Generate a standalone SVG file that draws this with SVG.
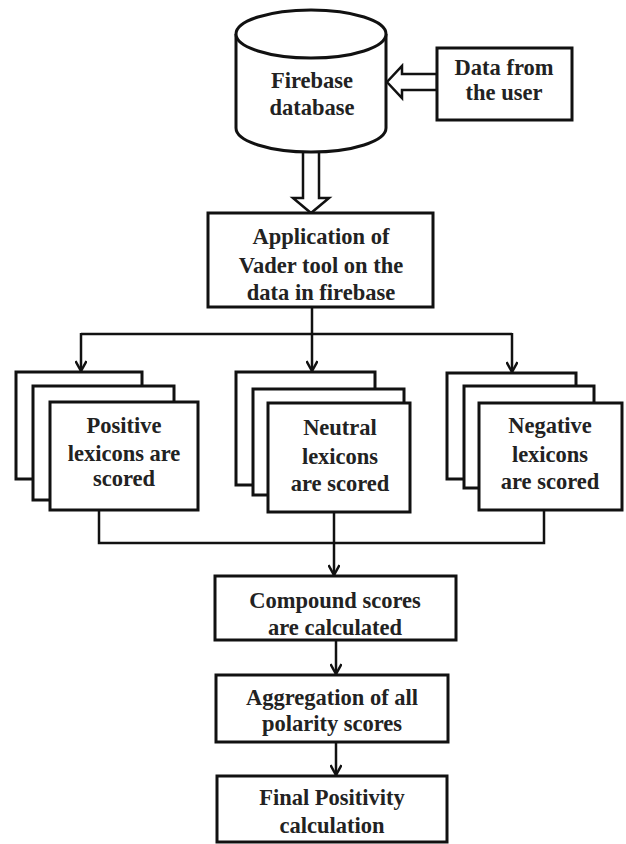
<svg xmlns="http://www.w3.org/2000/svg" width="626" height="844" viewBox="0 0 626 844">
<defs>
<style>
.box{fill:#fff;stroke:#111;stroke-width:3}
.hollow{fill:#fff;stroke:#111;stroke-width:2.5;stroke-linejoin:miter}
.con{fill:none;stroke:#111;stroke-width:2.5}
.t{font-family:"Liberation Serif","Times New Roman",serif;font-weight:bold;font-size:22.5px;fill:#222;text-anchor:middle}
</style>
<marker id="arr" viewBox="0 0 12 12" refX="11" refY="6" markerWidth="12" markerHeight="12" markerUnits="userSpaceOnUse" orient="auto">
<path d="M1,0.5 L11,6 L1,11.5" fill="none" stroke="#111" stroke-width="2.5"/>
</marker>
</defs>
<rect width="626" height="844" fill="#fff"/>

<g id="connectors">
<polygon class="hollow" points="437,74 402,74 402,66 387,82 402,98 402,90 437,90"/>
<polygon class="hollow" points="303,151 303,198 293,198 311,213 329,198 319,198 319,151"/>
<path class="con" d="M312,307 V334"/>
<path class="con" d="M81,334 H512"/>
<path class="con" d="M81,333 V371" marker-end="url(#arr)"/>
<path class="con" d="M312,334 V371" marker-end="url(#arr)"/>
<path class="con" d="M512,333 V372" marker-end="url(#arr)"/>
<path class="con" d="M99,510 V543 H544 V510"/>
<path class="con" d="M334,512 V575" marker-end="url(#arr)"/>
<path class="con" d="M336,640 V674" marker-end="url(#arr)"/>
<path class="con" d="M336,742 V775" marker-end="url(#arr)"/>
</g>

<g id="firebase">
<path class="box" d="M236,34 V128 A75,24 0 0 0 386,128 V34"/>
<ellipse class="box" cx="311" cy="34" rx="75" ry="24"/>
<text class="t" x="312" y="88">Firebase</text>
<text class="t" x="312" y="115">database</text>
</g>

<g id="user">
<rect class="box" x="437" y="48" width="135" height="72"/>
<text class="t" x="504" y="75">Data from</text>
<text class="t" x="504" y="100">the user</text>
</g>

<g id="vader">
<rect class="box" x="208" y="213" width="225" height="94"/>
<text class="t" x="321" y="244">Application of</text>
<text class="t" x="321" y="273">Vader tool on the</text>
<text class="t" x="321" y="300">data in firebase</text>
</g>

<g id="positive">
<rect class="box" x="16" y="372" width="126" height="107"/>
<rect class="box" x="33" y="386" width="141" height="114"/>
<rect class="box" x="50" y="402" width="148" height="108"/>
<text class="t" x="124" y="433">Positive</text>
<text class="t" x="124" y="461">lexicons are</text>
<text class="t" x="124" y="486">scored</text>
</g>

<g id="neutral">
<rect class="box" x="236" y="372" width="139" height="113"/>
<rect class="box" x="253" y="389" width="151" height="106"/>
<rect class="box" x="268" y="403" width="142" height="109"/>
<text class="t" x="340" y="435">Neutral</text>
<text class="t" x="340" y="464">lexicons</text>
<text class="t" x="340" y="491">are scored</text>
</g>

<g id="negative">
<rect class="box" x="447" y="373" width="129" height="106"/>
<rect class="box" x="464" y="386" width="130" height="102"/>
<rect class="box" x="479" y="403" width="143" height="107"/>
<text class="t" x="550" y="433">Negative</text>
<text class="t" x="550" y="462">lexicons</text>
<text class="t" x="550" y="489">are scored</text>
</g>

<g id="compound">
<rect class="box" x="215" y="576" width="241" height="64"/>
<text class="t" x="335" y="608">Compound scores</text>
<text class="t" x="335" y="635">are calculated</text>
</g>

<g id="aggregation">
<rect class="box" x="216" y="675" width="232" height="67"/>
<text class="t" x="332" y="705">Aggregation of all</text>
<text class="t" x="332" y="731">polarity scores</text>
</g>

<g id="final">
<rect class="box" x="217" y="776" width="230" height="66"/>
<text class="t" x="332" y="805">Final Positivity</text>
<text class="t" x="332" y="833">calculation</text>
</g>
</svg>
